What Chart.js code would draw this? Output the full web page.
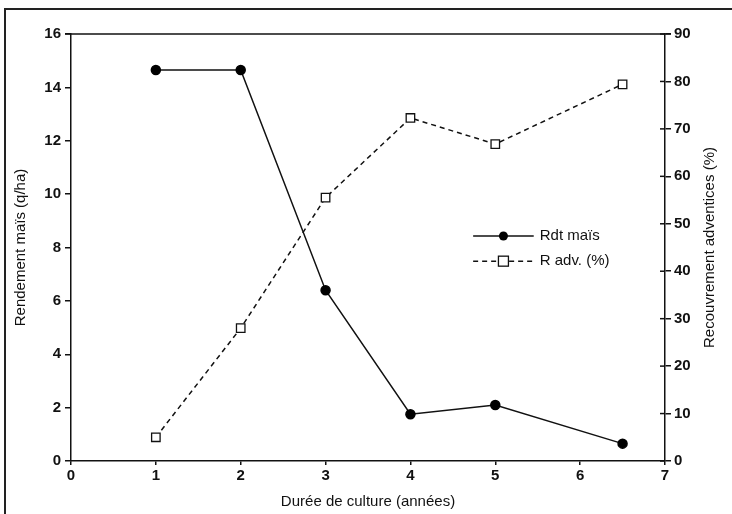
<!DOCTYPE html>
<html>
<head>
<meta charset="utf-8">
<script src="https://cdn.jsdelivr.net/npm/chart.js@4"></script>
<style>
  html, body { margin: 0; padding: 0; background: #fff; }
  #frame { position: absolute; left: 4px; top: 8px; width: 728px; height: 506px;
           border-top: 2px solid #222; border-left: 2px solid #222; box-sizing: border-box; }
  #wrap { position: absolute; left: 0; top: 0; width: 732px; height: 514px; }
</style>
</head>
<body>
<div id="frame"></div>
<div id="wrap"><canvas id="chart" width="732" height="514"></canvas></div>
<script>
const years = [1, 2, 3, 4, 5, 6.5];
const rdtMais = [14.65, 14.65, 6.4, 1.75, 2.1, 0.65];
const rAdv = [5, 28, 55.5, 72.3, 66.8, 79.4];
const seriesNames = ['Rdt maïs', 'R adv. (%)'];
const rightTitle = 'Recouvrement adventices (%)';

const font = 'Liberation Sans, Arial, Helvetica, sans-serif';

const toPoints = vals => vals.map((v, i) => ({x: years[i], y: v}));

// box top, inner ticks on the right axis, right title read bottom-up
const frameLines = {
  id: 'frameLines',
  afterDraw(chart) {
    const {ctx, chartArea} = chart;
    ctx.save();
    ctx.strokeStyle = '#111';
    ctx.lineWidth = 1.5;
    ctx.beginPath();
    ctx.moveTo(chartArea.left - 6, chartArea.top);
    ctx.lineTo(chartArea.right + 6, chartArea.top);
    ctx.stroke();
    const r = chart.scales.y1;
    r.ticks.forEach(t => {
      const py = r.getPixelForValue(t.value);
      ctx.beginPath();
      ctx.moveTo(chartArea.right - 5, py);
      ctx.lineTo(chartArea.right, py);
      ctx.stroke();
    });
    ctx.translate(r.right - 17, (chartArea.top + chartArea.bottom) / 2);
    ctx.rotate(-Math.PI / 2);
    ctx.fillStyle = '#111';
    ctx.font = '15px ' + font;
    ctx.textAlign = 'center';
    ctx.textBaseline = 'middle';
    ctx.fillText(rightTitle, 0, 0);
    ctx.restore();
  }
};

// legend inside the plot
const innerLegend = {
  id: 'innerLegend',
  afterDraw(chart) {
    const {ctx, chartArea} = chart;
    const w = chartArea.right - chartArea.left;
    const h = chartArea.bottom - chartArea.top;
    const x0 = chartArea.left + w * 0.677;
    const x1 = chartArea.left + w * 0.779;
    const xm = (x0 + x1) / 2;
    ctx.save();
    ctx.strokeStyle = '#111';
    ctx.lineWidth = 1.5;
    chart.data.datasets.forEach((ds, i) => {
      const y = chartArea.top + h * (0.473 + i * 0.059);
      ctx.setLineDash(ds.borderDash || []);
      ctx.beginPath();
      ctx.moveTo(x0, y);
      ctx.lineTo(x1, y);
      ctx.stroke();
      ctx.setLineDash([]);
      if (ds.pointStyle === 'rect') {
        ctx.fillStyle = '#fff';
        ctx.fillRect(xm - 5, y - 5, 10, 10);
        ctx.lineWidth = 1.3;
        ctx.strokeRect(xm - 5, y - 5, 10, 10);
        ctx.lineWidth = 1.5;
      } else {
        ctx.fillStyle = '#000';
        ctx.beginPath();
        ctx.arc(xm, y, 4.5, 0, Math.PI * 2);
        ctx.fill();
      }
      ctx.fillStyle = '#111';
      ctx.font = '15px ' + font;
      ctx.textBaseline = 'middle';
      ctx.fillText(ds.label, x1 + 6, y);
    });
    ctx.restore();
  }
};

new Chart(document.getElementById('chart'), {
  type: 'line',
  data: {
    datasets: [{
      label: seriesNames[0],
      data: toPoints(rdtMais),
      yAxisID: 'y',
      borderColor: '#111',
      borderWidth: 1.5,
      pointStyle: 'circle',
      pointRadius: 4.5,
      pointBackgroundColor: '#000',
      pointBorderColor: '#000',
      fill: false,
      tension: 0
    }, {
      label: seriesNames[1],
      data: toPoints(rAdv),
      yAxisID: 'y1',
      borderColor: '#111',
      borderWidth: 1.5,
      borderDash: [5, 4],
      pointStyle: 'rect',
      pointRadius: 6,
      pointBorderWidth: 1.3,
      pointBackgroundColor: '#fff',
      pointBorderColor: '#111',
      fill: false,
      tension: 0
    }]
  },
  options: {
    responsive: false,
    animation: false,
    layout: { padding: { left: 12, right: 5, top: 34, bottom: 3 } },
    plugins: { legend: { display: false }, tooltip: { enabled: false } },
    scales: {
      x: {
        type: 'linear',
        min: 0, max: 7,
        ticks: { stepSize: 1, color: '#111', font: { family: font, size: 15, weight: 'bold' }, padding: 2 },
        grid: { drawOnChartArea: false, tickLength: 4, color: '#111', lineWidth: 1.5 },
        border: { color: '#111', width: 1.5 },
        title: { display: true, text: 'Durée de culture (années)', color: '#111', font: { family: font, size: 15 }, padding: { top: 0, bottom: 0 } },
        afterFit: s => { s.height = 50; }
      },
      y: {
        position: 'left',
        min: 0, max: 16,
        ticks: { stepSize: 2, color: '#111', font: { family: font, size: 15, weight: 'bold' }, padding: 4 },
        grid: { drawOnChartArea: false, tickLength: 6, color: '#111', lineWidth: 1.5 },
        border: { color: '#111', width: 1.5 },
        title: { display: true, text: 'Rendement maïs (q/ha)', color: '#111', font: { family: font, size: 15 }, padding: { top: 0, bottom: 4 } },
        afterFit: s => { s.width = 59; }
      },
      y1: {
        position: 'right',
        min: 0, max: 90,
        ticks: { stepSize: 10, color: '#111', font: { family: font, size: 15, weight: 'bold' }, padding: 3 },
        grid: { drawOnChartArea: false, tickLength: 6, color: '#111', lineWidth: 1.5 },
        border: { color: '#111', width: 1.5 },
        title: { display: false },
        afterFit: s => { s.width = 62; }
      }
    }
  },
  plugins: [frameLines, innerLegend]
});
</script>
</body>
</html>
